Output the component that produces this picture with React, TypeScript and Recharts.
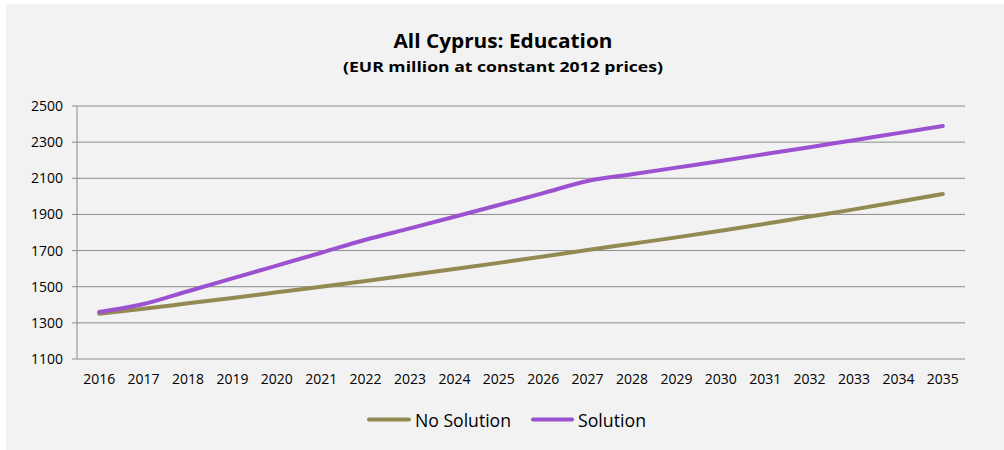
import React from "react";
import { LineChart, Line, XAxis, YAxis, CartesianGrid } from "recharts";

const years = [2016, 2017, 2018, 2019, 2020, 2021, 2022, 2023, 2024, 2025, 2026, 2027, 2028, 2029, 2030, 2031, 2032, 2033, 2034, 2035];
const noSolution = [1350, 1378, 1408, 1438, 1469, 1500, 1532, 1565, 1598, 1632, 1667, 1703, 1738, 1773, 1810, 1848, 1888, 1928, 1970, 2013];
const solution = [1360, 1404, 1475, 1546, 1617, 1688, 1760, 1823, 1887, 1952, 2018, 2085, 2122, 2159, 2196, 2234, 2272, 2311, 2350, 2389];
const yTicks = [1100, 1300, 1500, 1700, 1900, 2100, 2300, 2500];
const boundaries = [2015.5, ...years.map((y) => y + 0.5)];

const title = "All Cyprus: Education";
const subtitle = "(EUR million at constant 2012 prices)";
const seriesNames = ["No Solution", "Solution"];
const OLIVE = "#938953";
const PURPLE = "#9b51d0";
const GRID = "#8c8c8c";
const FONT = "'Open Sans', sans-serif";

const data = years.map((year, i) => ({ year, noSolution: noSolution[i], solution: solution[i] }));

export default function App() {
  return (
    <div style={{ position: "absolute", left: 0, top: 0, width: 1004, height: 450, background: "#ffffff" }}>
      <div style={{ position: "absolute", left: 6, top: 4, width: 998, height: 446, background: "#f2f2f2" }} />
      <div style={{ position: "absolute", left: 0, top: 0 }}>
        <LineChart width={1004} height={450} data={data} margin={{ top: 106, right: 39, bottom: 61, left: 17 }}>
          <CartesianGrid horizontal vertical={false} stroke={GRID} strokeWidth={1} />
          <XAxis
            xAxisId="tk"
            type="number"
            dataKey="year"
            domain={[2015.5, 2035.5]}
            ticks={boundaries}
            tick={false}
            tickSize={5}
            height={0}
            axisLine={{ stroke: GRID, strokeWidth: 1 }}
            tickLine={{ stroke: GRID, strokeWidth: 1 }}
            allowDataOverflow
          />
          <XAxis
            xAxisId="lab"
            type="number"
            dataKey="year"
            domain={[2015.5, 2035.5]}
            ticks={years}
            interval={0}
            tickLine={false}
            axisLine={false}
            tickSize={0}
            tickMargin={15}
            height={30}
            tick={{ fill: "#000", fontSize: 14, fontFamily: FONT }}
            allowDataOverflow
          />
          <YAxis
            domain={[1100, 2500]}
            ticks={yTicks}
            interval={0}
            width={60}
            tickSize={5}
            tickMargin={9}
            axisLine={{ stroke: GRID, strokeWidth: 1 }}
            tickLine={{ stroke: GRID, strokeWidth: 1 }}
            tick={{ fill: "#000", fontSize: 14, fontFamily: FONT }}
          />
          <Line xAxisId="tk" type="monotone" dataKey="noSolution" stroke={OLIVE} strokeWidth={4} strokeLinecap="round" dot={false} isAnimationActive={false} />
          <Line xAxisId="tk" type="monotone" dataKey="solution" stroke={PURPLE} strokeWidth={4} strokeLinecap="round" dot={false} isAnimationActive={false} />
        </LineChart>
      </div>
      <svg width={1004} height={450} style={{ position: "absolute", left: 0, top: 0, pointerEvents: "none" }}>
        <text x={503} y={48} textAnchor="middle" fontFamily={FONT} fontWeight="bold" fontSize={19.5} fill="#000" textLength={219} lengthAdjust="spacingAndGlyphs">{title}</text>
        <text x={503} y={72} textAnchor="middle" fontFamily={FONT} fontWeight="bold" fontSize={15} fill="#000" textLength={320} lengthAdjust="spacingAndGlyphs">{subtitle}</text>
        <line x1={369} y1={419.5} x2={409} y2={419.5} stroke={OLIVE} strokeWidth={4} strokeLinecap="round" />
        <text x={415} y={426.5} fontFamily={FONT} fontSize={18} fill="#000" textLength={96} lengthAdjust="spacingAndGlyphs">{seriesNames[0]}</text>
        <line x1={533} y1={419.5} x2={572} y2={419.5} stroke={PURPLE} strokeWidth={4} strokeLinecap="round" />
        <text x={578} y={426.5} fontFamily={FONT} fontSize={18} fill="#000" textLength={68} lengthAdjust="spacingAndGlyphs">{seriesNames[1]}</text>
      </svg>
    </div>
  );
}
